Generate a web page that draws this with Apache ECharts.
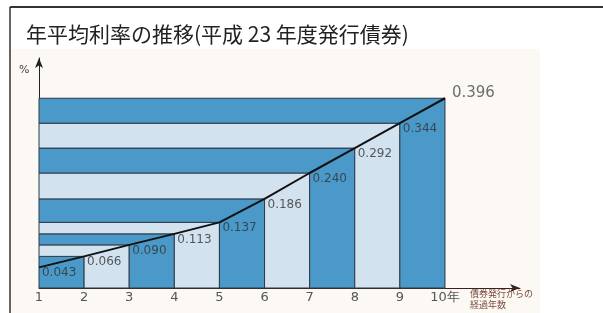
<!DOCTYPE html>
<html>
<head>
<meta charset="utf-8">
<script src="https://cdn.jsdelivr.net/npm/echarts@6/dist/echarts.min.js"></script>
<style>
html,body{margin:0;padding:0;background:#fff;}
#container{width:603px;height:313px;}
</style>
</head>
<body>
<div id="container"></div>
<script>
// 経過年数 / 年平均利率(%)
var years = [1, 2, 3, 4, 5, 6, 7, 8, 9, 10];
var rates = [0.043, 0.066, 0.090, 0.113, 0.137, 0.186, 0.240, 0.292, 0.344, 0.396];
var rateLabels = ['0.043', '0.066', '0.090', '0.113', '0.137', '0.186', '0.240', '0.292', '0.344', '0.396'];

var dom = document.getElementById("container");
var myChart = echarts.init(dom);

// 階段状の帯: [年, 下端, 上端]
var steps = [];
for (var i = 0; i < years.length - 1; i++) {
    steps.push([years[i], rates[i], rates[i + 1]]);
}
var lineData = [];
var labelData = [];
for (var i = 0; i < years.length; i++) {
    lineData.push([years[i], rates[i]]);
    var item = {value: [years[i], rates[i]], name: rateLabels[i]};
    if (i == years.length - 1) {
        item.label = {position: [7, -13], fontSize: 15, color: '#4a4a4a'};
    }
    labelData.push(item);
}

var option = {
    animation: false,
    title: {
        text: '年平均利率の推移(平成 23 年度発行債券)',
        left: 21,
        top: 19,
        textStyle: {
            fontFamily: 'Noto Sans CJK JP',
            fontSize: 21,
            fontWeight: 'normal',
            color: '#222'
        }
    },
    grid: {left: 39, right: 83, top: 58, bottom: 25},
    xAxis: {
        type: 'value',
        min: 1,
        max: 11.663,
        interval: 1,
        splitLine: {show: false},
        axisTick: {show: false},
        axisLine: {
            symbol: ['none', 'arrow'],
            symbolSize: [6, 10],
            lineStyle: {color: '#3a2222', width: 1}
        },
        axisLabel: {
            margin: 3,
            fontFamily: 'DejaVu Sans',
            fontSize: 13,
            color: '#555',
            showMaxLabel: false,
            formatter: function (v) {
                if (v == 10) return '10年';
                if (v < 10) return String(v);
                return '';
            }
        }
    },
    yAxis: {
        type: 'value',
        min: 0,
        max: 0.48,
        splitLine: {show: false},
        axisTick: {show: false},
        axisLabel: {show: false},
        axisLine: {
            show: true,
            symbol: ['none', 'arrow'],
            symbolSize: [6, 10],
            lineStyle: {color: '#222', width: 1}
        }
    },
    graphic: [
        {type: 'rect', z: -10, shape: {x: 10, y: 49, width: 530, height: 264}, style: {fill: '#fcf8f3'}},
        {type: 'line', shape: {x1: 10, y1: 7, x2: 603, y2: 7}, style: {stroke: '#333', lineWidth: 2}},
        {type: 'line', shape: {x1: 10, y1: 7, x2: 10, y2: 313}, style: {stroke: '#333', lineWidth: 1.5}},
        {type: 'text', left: 19, top: 65, style: {text: '%', fontSize: 11, fill: '#444', fontFamily: 'DejaVu Sans'}},
        {type: 'text', left: 470, top: 288, style: {text: '債券発行からの\n経過年数', fontSize: 9, lineHeight: 11, fill: '#7a4a3a', fontFamily: 'Noto Sans CJK JP'}}
    ],
    series: [
        {
            type: 'custom',
            data: steps,
            z: 1,
            renderItem: function (params, api) {
                var k = api.value(0);
                var lo = api.value(1);
                var hi = api.value(2);
                var pts = [
                    api.coord([1, lo]),
                    api.coord([k, lo]),
                    api.coord([k, 0]),
                    api.coord([k + 1, 0]),
                    api.coord([k + 1, hi]),
                    api.coord([1, hi])
                ];
                return {
                    type: 'polygon',
                    shape: {points: pts},
                    style: {
                        fill: params.dataIndex % 2 == 0 ? '#4b99c9' : '#d3e2ef',
                        stroke: '#2c3a46',
                        lineWidth: 1
                    }
                };
            }
        },
        {
            type: 'line',
            data: lineData,
            z: 3,
            symbol: 'none',
            lineStyle: {color: '#111', width: 2}
        },
        {
            type: 'scatter',
            data: labelData,
            z: 4,
            symbolSize: 0.1,
            itemStyle: {color: 'rgba(0,0,0,0)'},
            label: {
                show: true,
                position: [3, 0],
                formatter: '{b}',
                fontFamily: 'DejaVu Sans',
                fontSize: 12,
                color: '#333'
            }
        }
    ]
};

myChart.setOption(option, true);
</script>
</body>
</html>
